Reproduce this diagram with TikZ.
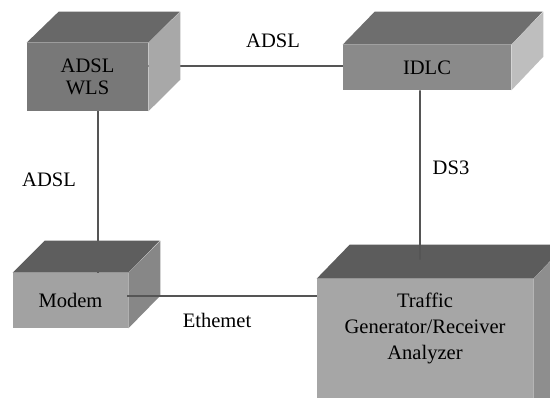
\documentclass[tikz,border=0pt]{standalone}
\usepackage{fontspec}
\setmainfont{Liberation Serif}
\usetikzlibrary{backgrounds}
\definecolor{wlsF}{HTML}{787878}\definecolor{wlsT}{HTML}{686868}\definecolor{wlsR}{HTML}{A8A8A8}
\definecolor{idlcF}{HTML}{8A8A8A}\definecolor{idlcT}{HTML}{6E6E6E}\definecolor{idlcR}{HTML}{BEBEBE}
\definecolor{modF}{HTML}{A2A2A2}\definecolor{modT}{HTML}{5E5E5E}\definecolor{modR}{HTML}{878787}
\definecolor{trF}{HTML}{A6A6A6}\definecolor{trT}{HTML}{5C5C5C}\definecolor{trR}{HTML}{8E8E8E}
\definecolor{linkc}{HTML}{555555}
\tikzset{
  front/.style={rectangle, inner sep=0pt, align=center, font=\fontsize{11.7}{12.5}\selectfont},
  link/.style={draw=linkc, line width=1.1pt},
  lbl/.style={inner sep=0pt, font=\fontsize{11.7}{13}\selectfont}
}
\begin{document}
\begin{tikzpicture}[x=0.02cm,y=-0.02cm]
\clip (0,0) rectangle (550,397);
% front faces (nodes)
\node[front, fill=wlsF, minimum width=2.42cm, minimum height=1.36cm] (wls) at (87.5,77) {ADSL\\WLS};
\node[front, fill=idlcF, minimum width=3.36cm, minimum height=0.9cm] (idlc) at (427,67.5) {IDLC};
\node[front, fill=modF, minimum width=2.3cm, minimum height=1.1cm] (modem) at (70.5,300.5) {Modem};
\node[front, fill=trF, minimum width=4.32cm, minimum height=1.96cm, font=\fontsize{11.7}{14.8}\selectfont] (traffic) at (425,328) {Traffic\\Generator/Receiver\\Analyzer};
% connectors behind boxes
\begin{scope}[on background layer]
\fill[white] (0,0) rectangle (550,397);
\draw[link] ([yshift=0.03cm]idlc.west) -- ([yshift=0.03cm]idlc.west -| wls.east);
\draw[link] ([xshift=0.21cm]wls.south) coordinate (ws) -- (ws |- modem.north);
\end{scope}
% side faces
\fill[wlsT] (wls.north west) -- ++(32,-31) -- ++(121,0) -- (wls.north east) -- cycle;
\fill[wlsR] (wls.north east) -- ++(32,-31) -- ++(0,68) -- (wls.south east) -- cycle;
\fill[idlcT] (idlc.north west) -- ++(32,-33) -- ++(168,0) -- (idlc.north east) -- cycle;
\fill[idlcR] (idlc.north east) -- ++(32,-33) -- ++(0,45) -- (idlc.south east) -- cycle;
\fill[modT] (modem.north west) -- ++(32,-32) -- ++(115,0) -- (modem.north east) -- cycle;
\fill[modR] (modem.north east) -- ++(32,-32) -- ++(0,55) -- (modem.south east) -- cycle;
\fill[trF] (traffic.south west) rectangle ([yshift=-1cm]traffic.south east);
\fill[trT] (traffic.north west) -- ++(33,-34) -- ++(216,0) -- (traffic.north east) -- cycle;
\fill[trR] (traffic.north east) -- ++(33,-34) -- ++(0,200) -- ++(-33,0) -- cycle;
% connectors on top
\draw[link] ([xshift=-0.14cm]idlc.south) -- ([xshift=-0.1cm,yshift=0.38cm]traffic.north);
\draw[link] ([xshift=-0.02cm,yshift=0.09cm]modem.east) coordinate (me) -- (me -| traffic.west);
% labels
\node[lbl] (l1) at (273,41) {ADSL};
\node[lbl] (l2) at (49,180) {ADSL};
\node[lbl] (l3) at (451,168) {DS3};
\node[lbl] (l4) at (217,320) {Ethemet};
\end{tikzpicture}
\end{document}
